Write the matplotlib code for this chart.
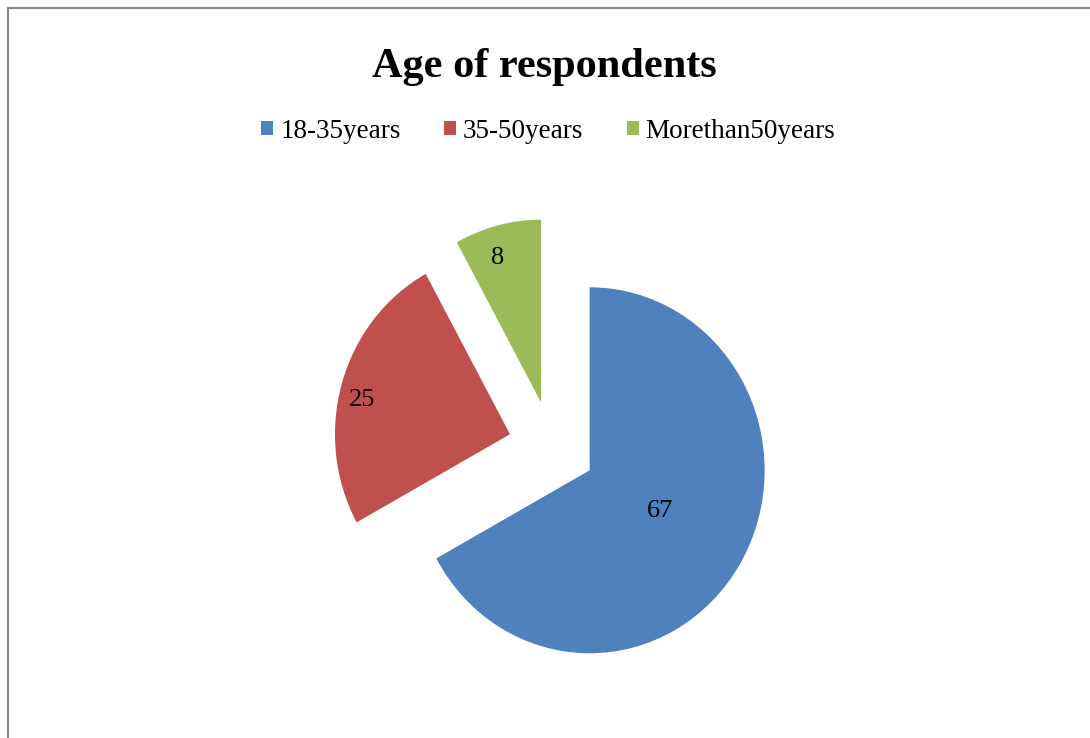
import numpy as np
import matplotlib.pyplot as plt
from matplotlib.patches import Patch, Rectangle

# age groups and shares
categorias = ['18-35years', '35-50years', 'Morethan50years']
valores = [67, 25, 8]
colores = ['#4F81BD', '#C0504D', '#9BBB59']
explode = [0.25, 0.25, 0.25]
# value labels: distance from each wedge apex (fraction of r) and angular nudge (deg)
dist_etiqueta = [0.46, 0.865, 0.83]
giro_etiqueta = [1.7, 3.8, 3.2]

plt.rcParams['font.family'] = ['Liberation Serif', 'DejaVu Serif']

fig = plt.figure(figsize=(10.9, 7.38), dpi=100)
ax = fig.add_axes([0, 0, 1, 1])

wedges, _ = ax.pie(valores, colors=colores, explode=explode, startangle=90,
                   counterclock=False, radius=1.0)

# pie centre and radius in pixels (slightly wider than tall);
# pie() resets limits, so set them afterwards
cx, cy, rx_px, ry_px = 552, 447, 175, 183
ax.set_aspect('auto')
ax.set_xlim(-cx / rx_px, (1090 - cx) / rx_px)
ax.set_ylim(-(738 - cy) / ry_px, cy / ry_px)
ax.axis('off')

for w, v, d, g in zip(wedges, valores, dist_etiqueta, giro_etiqueta):
    ang = np.deg2rad((w.theta1 + w.theta2) / 2 + g)
    x0, y0 = w.center
    ax.text(x0 + d * w.r * np.cos(ang), y0 + d * w.r * np.sin(ang), str(v),
            ha='center', va='center', fontsize=19, color='black')

fig.text(0.499, 0.909, 'Age of respondents', ha='center', va='center',
         fontsize=30.5, fontweight='bold')

handles = [Patch(facecolor=c, edgecolor='none') for c in colores]
fig.legend(handles, categorias, loc='center', bbox_to_anchor=(0.503, 0.822),
           ncol=3, frameon=False, fontsize=19.5, handlelength=0.45, handleheight=0.45,
           handletextpad=0.25, columnspacing=1.6)

# chart area border
fig.patches.append(Rectangle((7.5 / 1090, -0.05), 1.2, 1.05 - 8 / 738,
                             transform=fig.transFigure, fill=False,
                             edgecolor='#878787', linewidth=1.5))

fig.savefig('out.png', dpi=100)
